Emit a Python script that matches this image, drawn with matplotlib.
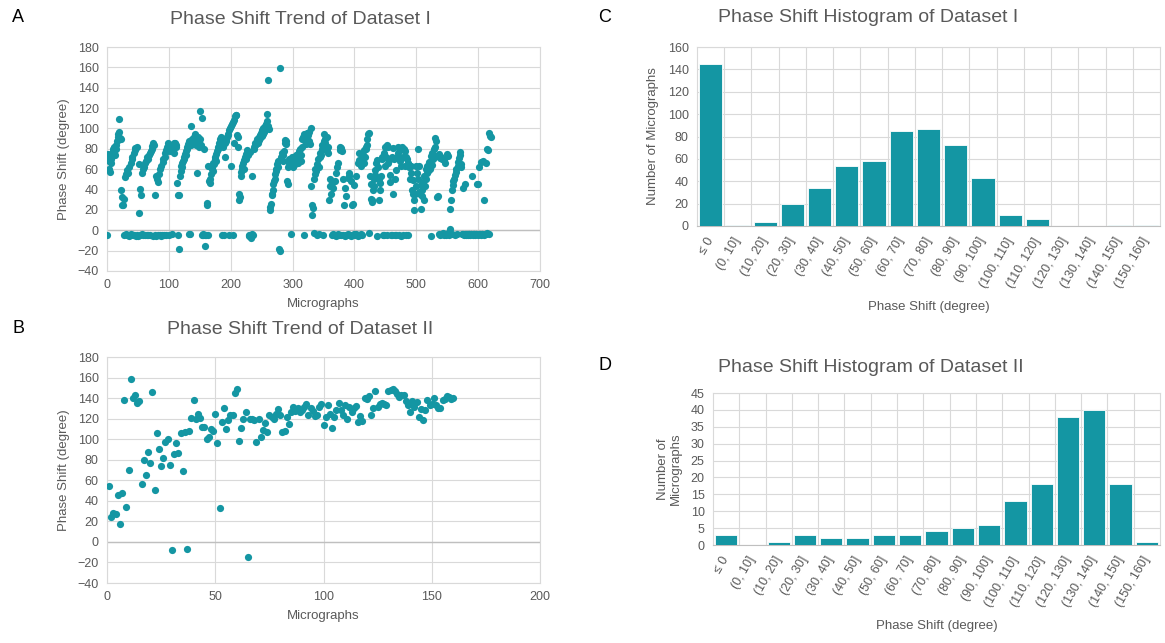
import numpy as np
import matplotlib.pyplot as plt

plt.rcParams['font.family'] = ['Liberation Sans', 'DejaVu Sans']

# Dataset I phase shift per micrograph in blocks of 100
ds1_000 = [-5, 75, 72, 68, 60, 57, 66, 70, 74, 78,
           80, 82, 76, 74, 80, 84, 88, 92, 95, 97,
           109, 91, 90, 40, 33, 25, 25, 31, -5, 52,
           -4, 55, 59, -5, 56, -6, 62, -5, 66, -4,
           70, 72, -5, 76, -5, 79, 81, -6, 82, -5,
           -6, 65, 17, -5, 41, 35, -4, 56, -5, 60,
           62, -5, 66, 68, -5, 72, 70, -5, 74, 76,
           -5, 78, 80, 83, -6, 86, 84, -5, 35, 53,
           -6, 50, -5, 47, 55, -5, 60, 63, -6, -5,
           67, 70, -5, 72, 76, 79, -5, 82, 86, 80]
ds1_100 = [84, -5, 78, 80, 82, -4, 84, 82, 86, 76,
           86, 84, 82, 46, -5, 35, -18, 35, 53, 58,
           63, 66, 62, 68, 70, 72, 75, 78, 74, 80,
           82, 85, 88, -4, -4, 102, 84, 88, 90, 86,
           92, 89, 95, 90, 84, 56, 88, 92, 86, 82,
           90, 117, 84, 110, -5, -5, -4, 80, -5, -15,
           -5, 27, 25, 63, -5, 48, 46, 50, 55, 60,
           62, 66, 58, 65, 70, 72, 68, 75, 78, 80,
           82, 86, 84, 90, 92, 88, -5, 82, 85, -5,
           86, 72, 90, 88, 92, 95, 94, 98, -5, 100]
ds1_200 = [102, 63, 104, -5, 106, 86, 108, 112, 113, 113,
           94, 92, 82, 36, 30, 33, 53, 57, 60, 63,
           66, 69, 60, 72, 75, 70, 76, 79, 74, -5,
           -6, 77, -5, -8, -4, 53, -5, 80, 82, 84,
           86, 85, 88, 90, 86, 92, 89, 94, 91, 96,
           93, 98, 95, 100, 97, 102, 98, 104, 114, 107,
           148, 102, 99, 20, 23, 26, 36, 35, 40, 45,
           48, 50, 55, 60, 58, 65, 68, 62, -18, 159,
           -20, 70, 72, 76, 68, 74, 78, 86, 89, 85,
           88, 48, 45, 62, 66, 70, 64, 68, -4, 72]
ds1_300 = [62, 66, 70, 64, 72, 68, 74, 70, 66, 75,
           72, 78, 80, 68, 74, 82, 90, 92, -5, 95,
           88, 85, 92, 90, 96, 94, 88, 97, 85, 100,
           43, 15, 25, 22, -3, 50, 55, 60, 58, -5,
           65, 70, 62, -4, 72, 76, 74, 80, 84, -5,
           88, 95, 86, 90, 79, 92, 78, 76, 82, 30,
           43, 50, 36, -5, 46, -4, 42, -5, 48, -5,
           56, -6, 62, -4, 66, -5, 79, 82, -5, 81,
           78, -5, 50, 25, -6, 42, -5, 34, -5, 51,
           -4, 56, 53, -5, 48, -6, 25, -5, 26, -4]
ds1_400 = [44, -5, -4, 53, -5, 66, -6, 69, 76, -5,
           63, -4, 70, -5, 74, 79, 66, 72, 80, 82,
           84, 90, 95, -3, 96, 53, 45, 31, 28, 30,
           40, 43, 50, 59, 54, 66, 69, -6, 62, 50,
           30, 40, 46, 53, 72, 70, -5, 76, -5, 82,
           63, 72, -5, 84, 66, 82, 69, 47, 54, -5,
           72, -5, 81, 36, 70, -5, 50, 59, -5, 72,
           76, 82, -5, 79, 68, -6, 63, 82, -5, 72,
           80, 78, 63, -5, 72, 70, -5, 66, 62, 64,
           50, 63, 56, 40, 36, 49, 30, 20, 36, 43]
ds1_500 = [63, 56, 50, 80, 38, 63, 36, 21, 44, 40,
           34, 47, 30, 53, 43, 60, 50, 63, 56, 58,
           62, 67, 60, -6, 73, 64, 76, 70, 80, 72,
           82, 91, 88, 73, 33, 34, 75, -4, 71, -5,
           72, -4, 70, -3, 69, -5, -4, 66, -5, 75,
           -4, -3, 73, -5, 1, 21, 30, -4, 40, 44,
           48, 50, -5, 54, 57, 60, -4, 63, 67, 71,
           74, 77, 62, 65, -4, -4, 42, -5, -4, 45,
           -4, -5, -4, -4, -5, -4, -4, -5, -4, -4,
           53, -4, -5, -4, -4, -5, -4, -4, 45, -5]
ds1_600 = [45, -4, 62, -4, 67, -5, -4, -4, 68, -5,
           30, -4, 66, -4, 80, -3, 79, 96, -4, 93, 92]

# Dataset II phase shift, micrographs 1..160 (panel B)
ds2 = [54, 24, 28, 27, 46, 17, 48, 138, 34, 70,
       159, 140, 143, 135, 137, 56, 80, 65, 88, 77,
       146, 51, 106, 90, 74, 82, 97, 100, 75, -8,
       86, 96, 87, 106, 69, 107, -7, 108, 121, 138,
       120, 125, 121, 112, 112, 100, 102, 110, 108, 125,
       96, 33, 117, 130, 110, 119, 124, 124, 145, 149,
       98, 111, 120, 126, -15, 120, 120, 119, 97, 120,
       102, 109, 116, 107, 124, 122, 120, 125, 129, 124,
       107, 108, 122, 115, 126, 131, 127, 130, 126, 128,
       131, 134, 124, 130, 127, 123, 124, 131, 134, 114,
       122, 133, 125, 111, 122, 128, 135, 128, 124, 133,
       120, 131, 126, 130, 132, 117, 123, 118, 140, 139,
       142, 124, 130, 147, 131, 134, 135, 134, 133, 147,
       148, 149, 147, 144, 141, 143, 143, 137, 133, 126,
       137, 131, 136, 122, 129, 119, 128, 138, 133, 134,
       140, 133, 130, 130, 138, 139, 142, 141, 139, 140]

# histogram bins and counts (panels C and D)
bins = ['≤ 0', '(0, 10]', '(10, 20]', '(20, 30]', '(30, 40]', '(40, 50]',
        '(50, 60]', '(60, 70]', '(70, 80]', '(80, 90]', '(90, 100]',
        '(100, 110]', '(110, 120]', '(120, 130]', '(130, 140]',
        '(140, 150]', '(150, 160]']
hist1 = [145, 1, 4, 20, 34, 54, 58, 85, 87, 72, 43, 10, 6, 0, 0, 1, 1]
hist2 = [3, 0, 1, 3, 2, 2, 3, 3, 4, 5, 6, 13, 18, 38, 40, 18, 1]

teal = '#1496a3'
grid_c = '#d9d9d9'
txt = '#595959'

blocks = [ds1_000, ds1_100, ds1_200, ds1_300, ds1_400, ds1_500, ds1_600]
x1 = np.concatenate([100 * i + np.arange(len(b)) for i, b in enumerate(blocks)])
y1 = np.concatenate(blocks)
x2 = np.arange(1, len(ds2) + 1)

W, H = 1165, 643
fig = plt.figure(figsize=(W / 100, H / 100), dpi=100)


def box(l, t, r, b):
    return [l / W, 1 - b / H, (r - l) / W, (b - t) / H]


def frame(ax):
    ax.set_axisbelow(True)
    for s in ax.spines.values():
        s.set_color(grid_c)
        s.set_linewidth(0.8)
    ax.tick_params(length=0, colors=txt, labelsize=9, pad=6)


def scatter_panel(ax, x, y, xmax, xstep):
    ax.scatter(x, y, s=27, color=teal, linewidths=0, zorder=3)
    ax.set_xlim(0, xmax)
    ax.set_ylim(-40, 180)
    ax.set_xticks(np.arange(0, xmax + 1, xstep))
    ax.set_yticks(np.arange(-40, 181, 20))
    ax.grid(True, color=grid_c, lw=0.8)
    ax.axhline(0, color='#bfbfbf', lw=1.0, zorder=2)
    frame(ax)
    ax.set_xlabel('Micrographs', color=txt, fontsize=9.5, labelpad=5)
    ax.set_ylabel('Phase Shift (degree)', color=txt, fontsize=9.5, labelpad=5)


def hist_panel(ax, counts, ymax, ystep, ylabel):
    pos = np.arange(len(bins))
    ax.bar(pos, counts, width=0.85, color=teal, edgecolor='white', lw=0.6, zorder=3)
    ax.set_xlim(-0.5, len(bins) - 0.5)
    ax.set_ylim(0, ymax)
    ax.set_yticks(np.arange(0, ymax + 1, ystep))
    ax.set_xticks(pos)
    ax.set_xticklabels(bins, rotation=60, ha='right', va='center',
                       rotation_mode='anchor')
    ax.set_xticks(pos[:-1] + 0.5, minor=True)
    frame(ax)
    ax.tick_params(axis='x', which='major', pad=9)
    ax.tick_params(which='minor', length=0)
    ax.grid(True, axis='y', color=grid_c, lw=0.8)
    ax.grid(True, axis='x', which='minor', color=grid_c, lw=0.8)
    ax.spines['bottom'].set_color('#bfbfbf')
    ax.set_xlabel('Phase Shift (degree)', color=txt, fontsize=9.5, labelpad=8)
    ax.set_ylabel(ylabel, color=txt, fontsize=9.5, labelpad=6)


axA = fig.add_axes(box(107, 47, 540, 271))
scatter_panel(axA, x1, y1, 700, 100)

axB = fig.add_axes(box(107, 357, 540, 583))
scatter_panel(axB, x2, ds2, 200, 50)

axC = fig.add_axes(box(697, 47, 1160, 226))
hist_panel(axC, hist1, 160, 20, 'Number of Micrographs')

axD = fig.add_axes(box(713, 393, 1160, 545))
hist_panel(axD, hist2, 45, 5, 'Number of\nMicrographs')

titles = [('Phase Shift Trend of Dataset I', 300, 20),
          ('Phase Shift Trend of Dataset II', 300, 330),
          ('Phase Shift Histogram of Dataset I', 868, 18),
          ('Phase Shift Histogram of Dataset II', 871, 367)]
for t, px, py in titles:
    fig.text(px / W, 1 - py / H, t, fontsize=14, color=txt,
             ha='center', va='center')

for lab, px, py in [('A', 12, 18), ('B', 12, 328), ('C', 598, 18), ('D', 598, 366)]:
    fig.text(px / W, 1 - py / H, lab, fontsize=13, color='black',
             ha='left', va='center')

fig.savefig('out.png', dpi=100)
